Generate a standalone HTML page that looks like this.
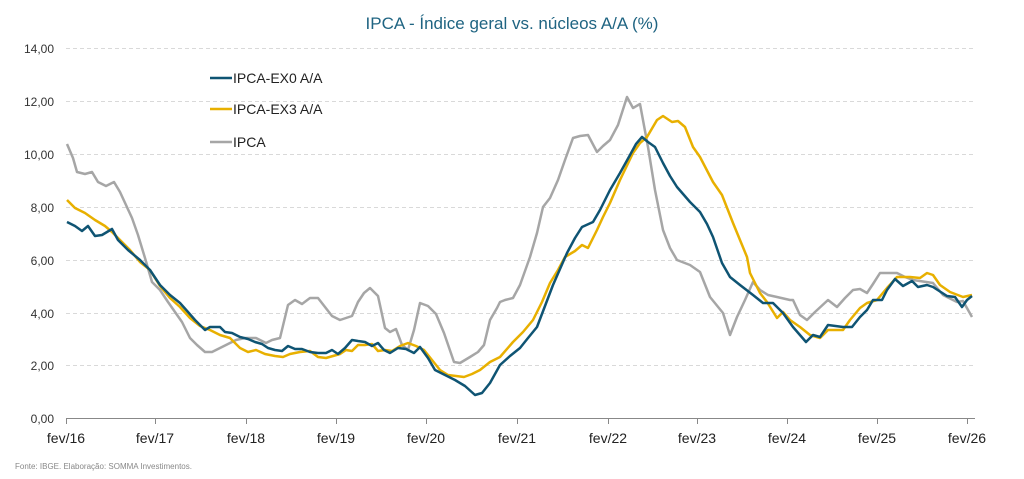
<!DOCTYPE html>
<html><head><meta charset="utf-8"><style>
body{margin:0;background:#fff;}
svg{display:block;font-family:"Liberation Sans",sans-serif;}
</style></head><body>
<svg width="1024" height="479" viewBox="0 0 1024 479">
<text x="512" y="29" text-anchor="middle" font-size="17" fill="#1f6482">IPCA  - Índice geral vs. núcleos A/A (%)</text>
<g stroke="#d9d9d9" stroke-dasharray="4,3" stroke-width="1">
<line x1="66" x2="975" y1="48.5" y2="48.5"/><line x1="66" x2="975" y1="101.5" y2="101.5"/><line x1="66" x2="975" y1="154.5" y2="154.5"/><line x1="66" x2="975" y1="207.5" y2="207.5"/><line x1="66" x2="975" y1="260.5" y2="260.5"/><line x1="66" x2="975" y1="313.5" y2="313.5"/><line x1="66" x2="975" y1="365.5" y2="365.5"/>
</g>
<g font-size="12" fill="#333" text-anchor="end">
<text x="54" y="53">14,00</text><text x="54" y="106">12,00</text><text x="54" y="159">10,00</text><text x="54" y="212">8,00</text><text x="54" y="265">6,00</text><text x="54" y="318">4,00</text><text x="54" y="370">2,00</text><text x="54" y="423">0,00</text>
</g>
<g stroke="#888" stroke-width="1">
<line x1="66" x2="975" y1="418.5" y2="418.5"/>
<line x1="66.5" x2="66.5" y1="418" y2="424"/><line x1="155.5" x2="155.5" y1="418" y2="424"/><line x1="246.5" x2="246.5" y1="418" y2="424"/><line x1="336.5" x2="336.5" y1="418" y2="424"/><line x1="426.5" x2="426.5" y1="418" y2="424"/><line x1="517.5" x2="517.5" y1="418" y2="424"/><line x1="608.5" x2="608.5" y1="418" y2="424"/><line x1="697.5" x2="697.5" y1="418" y2="424"/><line x1="787.5" x2="787.5" y1="418" y2="424"/><line x1="877.5" x2="877.5" y1="418" y2="424"/><line x1="967.5" x2="967.5" y1="418" y2="424"/>
</g>
<g font-size="14" fill="#222" text-anchor="middle">
<text x="66" y="443">fev/16</text><text x="155" y="443">fev/17</text><text x="246" y="443">fev/18</text><text x="336" y="443">fev/19</text><text x="426" y="443">fev/20</text><text x="517" y="443">fev/21</text><text x="608" y="443">fev/22</text><text x="697" y="443">fev/23</text><text x="787" y="443">fev/24</text><text x="877" y="443">fev/25</text><text x="967" y="443">fev/26</text>
</g>
<text x="15" y="469" font-size="8" fill="#888">Fonte: IBGE. Elaboração: SOMMA Investimentos.</text>
<g fill="none" stroke-width="2.5" stroke-linejoin="round">
<polyline stroke="#a6a6a6" points="67,144 73,158 77,172 85,174 92,172 98,182 106,186 114,182 120,192 126,205 132,218 138,235 145,258 152,282 160,290 168,302 175,312 182,322 190,338 197,345 205,352 212,352 220,348 228,344 236,340 245,338 256,338 266,343 272,340 280,338 288,305 295,300 302,304 310,298 318,298 325,307 332,316 340,320 346,318 352,316 358,302 364,293 370,288 378,296 385,328 390,332 396,329 402,345 408,350 414,330 420,303 428,306 436,314 444,333 454,362 460,363 470,357 478,352 484,345 490,320 497,308 500,302 505,300 513,298 520,285 530,257 537,233 543,207 550,198 558,180 565,160 573,138 580,136 588,135 597,152 603,146 610,140 618,125 627,97 633,108 640,104 648,147 655,190 663,230 670,248 677,260 690,265 700,272 710,297 723,313 730,335 737,317 745,300 753,282 760,290 768,295 777,297 790,300 793,300 800,315 807,320 815,312 828,300 837,307 845,298 853,290 860,289 867,293 873,284 880,273 897,273 905,277 913,280 933,283 943,295 957,302 963,301 972,317"/>
<polyline stroke="#e8b000" points="67,200 75,208 85,213 95,220 105,226 112,232 120,240 130,250 140,262 150,270 160,286 170,298 180,307 190,318 200,326 210,330 220,335 230,338 240,348 248,352 256,350 265,354 275,356 283,357 290,354 300,352 310,351 318,357 326,358 333,356 340,354 346,350 352,351 358,345 365,345 372,344 378,351 385,350 392,351 400,346 408,343 416,346 424,350 432,360 440,370 448,375 456,376 464,377 472,374 480,370 490,362 500,357 513,342 523,332 533,320 542,302 550,283 558,270 565,257 575,251 582,245 588,248 597,230 603,217 610,203 620,180 633,153 640,143 647,137 657,120 663,116 672,122 678,121 685,127 693,147 700,157 713,182 722,195 733,223 747,257 750,273 760,293 767,302 777,318 783,312 790,320 800,327 810,335 820,338 828,330 843,330 850,320 860,308 867,303 877,300 887,288 897,277 910,277 920,278 927,273 933,275 940,285 950,292 963,297 972,295"/>
<polyline stroke="#0f5473" points="67,222 75,226 82,231 88,226 95,236 102,235 112,229 118,240 128,250 140,260 150,270 160,285 170,295 180,303 188,312 195,320 205,330 210,327 215,327 220,327 225,332 232,333 240,337 248,339 255,342 262,344 268,348 275,350 282,351 288,346 295,349 302,349 310,352 318,353 326,353 332,350 338,354 345,348 352,340 358,341 365,342 372,346 378,343 384,350 390,353 398,348 406,349 414,353 420,347 428,358 435,370 445,375 455,380 465,386 475,395 482,393 490,383 500,365 510,356 520,348 528,338 537,327 545,306 553,285 560,269 567,253 575,238 582,227 593,222 600,210 610,190 620,173 630,155 636,144 642,137 648,142 655,147 663,163 670,176 677,187 690,202 700,212 707,224 713,237 722,263 730,277 740,285 753,295 763,303 773,303 783,313 793,327 806,342 813,335 820,337 828,325 843,327 852,327 860,317 867,310 873,300 882,300 887,290 895,279 903,286 912,281 918,287 927,285 933,287 947,296 955,297 962,307 967,300 972,296"/>
</g>
<g stroke-width="2.5">
<line x1="210" x2="232" y1="78" y2="78" stroke="#0f5473"/>
<line x1="210" x2="232" y1="109" y2="109" stroke="#e8b000"/>
<line x1="210" x2="232" y1="142" y2="142" stroke="#a6a6a6"/>
</g>
<g font-size="14" fill="#222">
<text x="233" y="83">IPCA-EX0 A/A</text>
<text x="233" y="114">IPCA-EX3 A/A</text>
<text x="233" y="147">IPCA</text>
</g>
</svg>
</body></html>
